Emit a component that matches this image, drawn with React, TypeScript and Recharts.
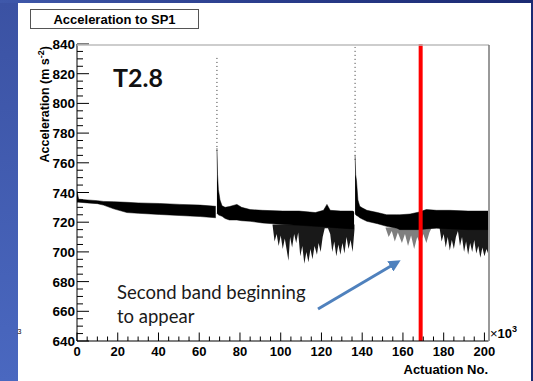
import React from "react";
import { ComposedChart, Area, Line, XAxis, YAxis, ReferenceLine } from "recharts";

const W = 533;
const H = 381;
const PLOT_LEFT = 77;
const PLOT_BOTTOM = 341;

// axis ticks (labels every 20, minor every 5)
const xMajor = [0, 20, 40, 60, 80, 100, 120, 140, 160, 180, 200];
const yMajor = [640, 660, 680, 700, 720, 740, 760, 780, 800, 820, 840];
const withMinor = (majors: number[]) =>
  majors.flatMap((v, i) => (i < majors.length - 1 ? [v, v + 5, v + 10, v + 15] : [v]));
const xTicks = withMinor(xMajor);
const yTicks = withMinor(yMajor);

// main band, first running period (before first restart)
const seg1X = [0, 0.8, 5, 10, 13, 18, 24.5, 30, 40.5, 50.5, 60.5, 68.1];
const seg1Top = [741, 735.5, 735, 734.5, 734, 733.8, 733.4, 733, 732.6, 732, 731.5, 730.7];
const seg1Bottom = [733.5, 733.5, 733, 732.5, 731.5, 729, 726.5, 726, 725.2, 724.5, 723.8, 723];

// second period, starts with the spike / decay
const seg2X = [68.7, 69, 69.4, 70.2, 71.2, 72.7, 74.8, 78.5, 80.8, 85, 91, 101, 109, 117, 121, 122.7, 124.3, 129.5, 135.3, 136];
const seg2Top = [770, 752, 742, 735, 731, 730, 730.5, 732, 730, 728.5, 728, 727.5, 727.5, 726.5, 728, 732, 728, 727.5, 727.5, 727];
const seg2Bottom = [726, 725.5, 725, 724.5, 724, 722.5, 721.5, 721.5, 721, 720.6, 719.5, 718.5, 718, 717.2, 717, 717, 716.5, 716, 715.5, 715.5];

// third period
const seg3X = [136.5, 136.8, 137.2, 137.9, 138.8, 140.2, 142.3, 147.5, 152, 157, 158.5, 163.5, 167.5, 171.5, 176.5, 183, 192, 201.8];
const seg3Top = [765, 752, 748, 735, 730.7, 729.5, 728, 726.5, 725, 725, 725, 725.5, 726.7, 728.5, 728, 728, 727.5, 727.5];
const seg3Bottom = [726, 725, 724.5, 724, 723, 722, 720.6, 719, 717.2, 716, 715, 715, 715, 715.5, 716, 715.5, 715, 715];

// second-band dropouts below the main band
const dropAX = [96, 97, 98, 99, 100, 101, 102, 103.8, 104.6, 105.6, 106.6, 107.6, 108.6, 109.6, 110.6, 111.6, 112.6, 113.6, 114.6, 115.6, 116.6, 117.8, 118.6, 119.6, 120.6, 121.6, 123.2, 124.3, 125.3, 126.3, 127.3, 128.3, 129.3, 130.3, 131.3, 132.3, 133.3, 134.3, 135.3, 136.2];
const dropALow = [718, 707, 712, 704, 711, 702, 709, 694, 710, 703, 712, 706, 713, 697, 704, 692, 700, 693, 702, 695, 704, 698, 706, 700, 710, 716, 716, 712, 700, 707, 697, 705, 698, 706, 699, 710, 702, 708, 700, 715];
const dropATop = 718.5;

const dropBX = [151.5, 153, 154.5, 156, 157.5, 159.5, 161, 162.5, 164, 165.5, 167, 168.5, 170, 171.5, 173, 174];
const dropBLow = [716, 710, 714, 707, 713, 706, 712, 704, 711, 702, 710, 705, 712, 706, 713, 716];
const dropBTop = 716.5;

const dropCX = [178, 179, 180, 181, 182, 183, 184, 185, 186, 187, 188, 189, 190, 191, 192, 193, 194, 195, 196, 197, 198, 199, 200, 201, 201.8];
const dropCLow = [716, 707, 712, 703, 710, 701, 708, 702, 710, 714, 704, 710, 700, 707, 698, 706, 700, 708, 699, 704, 696, 703, 697, 702, 699];
const dropCTop = 716.5;

// sparse dotted tops of the two restart spikes
const spikeX = [68.7, 136.5];
const spikeBase = [768, 762];
const spikeTop = [832, 838];

const redLineX = 168.7;

const band = (xs: number[], lo: number[], hi: number[]) =>
  xs.map((x, i) => ({ x, range: [lo[i], hi[i]] }));
const drop = (xs: number[], lo: number[], top: number) =>
  xs.map((x, i) => ({ x, range: [lo[i], top] }));

const bands = [
  band(seg1X, seg1Bottom, seg1Top),
  band(seg2X, seg2Bottom, seg2Top),
  band(seg3X, seg3Bottom, seg3Top),
];
const drops = [
  { data: drop(dropAX, dropALow, dropATop), op: 0.9 },
  { data: drop(dropBX, dropBLow, dropBTop), op: 0.5 },
  { data: drop(dropCX, dropCLow, dropCTop), op: 0.9 },
];
const spikes = spikeX.map((x, i) => [
  { x, y: spikeBase[i] },
  { x, y: spikeTop[i] },
]);

const rootFont = "'Liberation Sans', Arial, sans-serif";

const XTick = (props: any) => {
  const { x, payload } = props;
  const v = payload.value;
  const major = v % 20 === 0;
  return (
    <g>
      <line x1={x} x2={x} y1={PLOT_BOTTOM} y2={PLOT_BOTTOM - (major ? 8.5 : 4.5)} stroke="#000" />
      {major && (
        <text x={x} y={356} textAnchor="middle" fontFamily={rootFont} fontWeight="bold" fontSize={13} fill="#000">
          {v}
        </text>
      )}
    </g>
  );
};

const YTick = (props: any) => {
  const { y, payload } = props;
  const v = payload.value;
  const major = v % 20 === 0;
  return (
    <g>
      <line x1={PLOT_LEFT} x2={PLOT_LEFT + (major ? 12 : 6)} y1={y} y2={y} stroke="#000" />
      {major && (
        <text x={75} y={y + 5} textAnchor="end" fontFamily={rootFont} fontWeight="bold" fontSize={13.5} fill="#000">
          {v}
        </text>
      )}
    </g>
  );
};

export default function App() {
  return (
    <div
      style={{
        position: "absolute",
        left: 0,
        top: 0,
        width: W,
        height: H,
        overflow: "hidden",
        background: "linear-gradient(90deg, #3f58aa 0%, #2a3d8c 50%, #1b2a72 100%)",
      }}
    >
      <div
        style={{
          position: "absolute",
          left: 0,
          top: 3,
          width: 18,
          height: H - 3,
          background: "linear-gradient(180deg, #3b52a3 0%, #4a68c0 100%)",
        }}
      />
      <div style={{ position: "absolute", left: 18, top: 3, width: 513, height: H - 3, background: "#fff" }} />

      <div style={{ position: "absolute", left: 0, top: 0 }}>
        <ComposedChart width={W} height={H} margin={{ top: 44, right: 44.5, bottom: 10, left: 17 }}>
          <XAxis
            type="number"
            dataKey="x"
            domain={[0, 202]}
            ticks={xTicks}
            interval={0}
            allowDataOverflow
            height={30}
            axisLine={{ stroke: "#000" }}
            tickLine={false}
            tick={<XTick />}
          />
          <YAxis
            type="number"
            domain={[640, 840]}
            ticks={yTicks}
            interval={0}
            allowDataOverflow
            width={60}
            axisLine={{ stroke: "#000" }}
            tickLine={false}
            tick={<YTick />}
          />
          {drops.map((d, i) => (
            <Area
              key={"d" + i}
              data={d.data}
              dataKey="range"
              type="linear"
              stroke="none"
              fill="#000"
              fillOpacity={d.op}
              dot={false}
              activeDot={false}
              isAnimationActive={false}
            />
          ))}
          {bands.map((b, i) => (
            <Area
              key={"b" + i}
              data={b}
              dataKey="range"
              type="linear"
              stroke="#000"
              strokeWidth={0.5}
              fill="#000"
              fillOpacity={1}
              dot={false}
              activeDot={false}
              isAnimationActive={false}
            />
          ))}
          {spikes.map((s, i) => (
            <Line
              key={"s" + i}
              data={s}
              dataKey="y"
              type="linear"
              stroke="#333"
              strokeWidth={1}
              strokeDasharray="1 3"
              dot={false}
              activeDot={false}
              isAnimationActive={false}
            />
          ))}
          <ReferenceLine x={redLineX} stroke="#ff0000" strokeWidth={4} />
        </ComposedChart>
      </div>

      <svg
        width={W}
        height={H}
        style={{ position: "absolute", left: 0, top: 0, pointerEvents: "none" }}
      >
        <defs>
          <marker id="arrow" markerWidth="4" markerHeight="4" refX="2.2" refY="2" orient="auto">
            <path d="M0,0 L4,2 L0,4 Z" fill="#4f81bd" />
          </marker>
        </defs>
        {/* frame */}
        <line x1={77} x2={489} y1={45} y2={45} stroke="#bdbdbd" strokeWidth={1.5} />
        <line x1={489} x2={489} y1={45} y2={341} stroke="#777" strokeWidth={1.5} />

        {/* title box */}
        <rect x={30.5} y={9.5} width={168} height={19} fill="#fff" stroke="#555" strokeWidth={1} />
        <text x={114.5} y={24} textAnchor="middle" fontFamily={rootFont} fontWeight="bold" fontSize={13} fill="#000">
          Acceleration to SP1
        </text>

        {/* axis titles */}
        <text
          transform="translate(49,46) rotate(-90)"
          textAnchor="end"
          fontFamily={rootFont}
          fontWeight="bold"
          fontSize={12.5}
          fill="#000"
        >
          Acceleration (m s<tspan dy={-5} fontSize={9}>-2</tspan>
          <tspan dy={5}>)</tspan>
        </text>
        <text x={488} y={374} textAnchor="end" fontFamily={rootFont} fontWeight="bold" fontSize={13} fill="#000">
          Actuation No.
        </text>
        <text x={490} y={338} fontFamily={rootFont} fontSize={13} fill="#000">
          ×<tspan fontWeight="bold">10</tspan>
          <tspan dy={-6} fontSize={9} fontWeight="bold">3</tspan>
        </text>
        <text x={17.5} y={334} fontFamily={rootFont} fontSize={7} fill="#000">
          3
        </text>

        {/* slide annotations */}
        <text x={113} y={87} fontFamily="Lato, 'Open Sans', sans-serif" fontWeight="bold" fontSize={25} fill="#111">
          T2.8
        </text>
        <text fontFamily="Lato, 'Open Sans', sans-serif" fontSize={18.5} fill="#1a1a1a">
          <tspan x={117} y={299}>Second band beginning</tspan>
          <tspan x={117} y={323}>to appear</tspan>
        </text>
        <line x1={318} y1={309} x2={396} y2={263} stroke="#4f81bd" strokeWidth={3} markerEnd="url(#arrow)" />
      </svg>
    </div>
  );
}
